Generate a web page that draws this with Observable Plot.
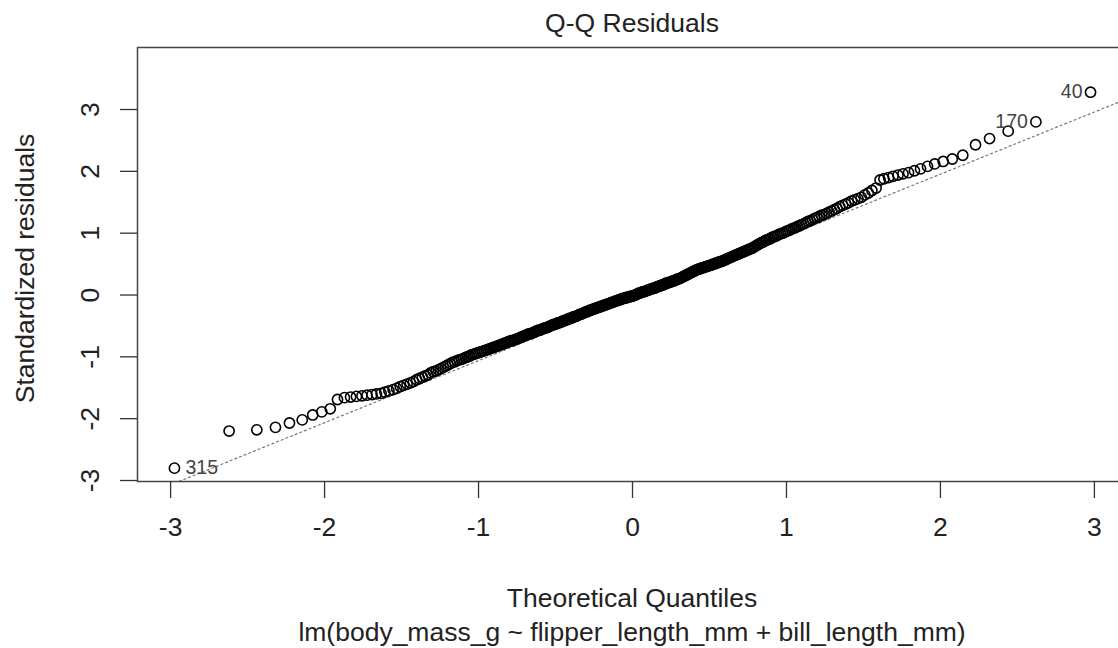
<!DOCTYPE html>
<html><head><meta charset="utf-8">
<script src="https://cdn.jsdelivr.net/npm/d3@7"></script>
<script src="https://cdn.jsdelivr.net/npm/@observablehq/plot@0.6"></script>
<style>
body{margin:0;background:#fff;}
#wrap{position:relative;width:1118px;height:648px;overflow:hidden;font-family:"Liberation Sans",Arial,sans-serif;color:#222;background:#fff;}
.title{width:1264px;height:46px;line-height:46px;text-align:center;font-size:26.5px;}
.bottom{width:1264px;padding-top:23px;text-align:center;font-size:26.5px;line-height:34px;}
#chart svg{display:block;overflow:hidden;}
</style></head>
<body>
<div id="wrap">
  <div class="title">Q-Q Residuals</div>
  <div id="chart"></div>
  <div class="bottom"><div>Theoretical Quantiles</div><div>lm(body_mass_g ~ flipper_length_mm + bill_length_mm)</div></div>
</div>
<script>
// Theoretical quantiles (x) of the 342 sorted standardized residuals
const theoretical = [
-2.975,-2.620,-2.440,-2.319,-2.228,-2.145,-2.077,-2.018,-1.963,-1.916,
-1.871,-1.831,-1.793,-1.757,-1.724,-1.692,-1.663,-1.633,-1.608,-1.582,
-1.555,-1.532,-1.509,-1.486,-1.464,-1.443,-1.423,-1.402,-1.384,-1.365,
-1.346,-1.328,-1.311,-1.294,-1.277,-1.261,-1.245,-1.229,-1.213,-1.198,
-1.183,-1.169,-1.154,-1.140,-1.126,-1.112,-1.099,-1.085,-1.072,-1.060,
-1.047,-1.034,-1.022,-1.010,-0.997,-0.985,-0.974,-0.962,-0.950,-0.939,
-0.927,-0.916,-0.905,-0.894,-0.883,-0.872,-0.862,-0.851,-0.841,-0.830,
-0.820,-0.810,-0.800,-0.790,-0.780,-0.770,-0.760,-0.750,-0.740,-0.731,
-0.721,-0.712,-0.702,-0.693,-0.684,-0.675,-0.665,-0.656,-0.647,-0.638,
-0.629,-0.620,-0.611,-0.603,-0.594,-0.585,-0.576,-0.568,-0.559,-0.551,
-0.542,-0.534,-0.525,-0.517,-0.509,-0.500,-0.492,-0.484,-0.476,-0.467,
-0.459,-0.451,-0.443,-0.435,-0.427,-0.419,-0.411,-0.403,-0.395,-0.387,
-0.379,-0.371,-0.363,-0.356,-0.348,-0.340,-0.332,-0.325,-0.317,-0.309,
-0.301,-0.294,-0.286,-0.278,-0.271,-0.263,-0.256,-0.248,-0.241,-0.233,
-0.225,-0.218,-0.210,-0.203,-0.196,-0.188,-0.181,-0.173,-0.166,-0.158,
-0.151,-0.143,-0.136,-0.129,-0.121,-0.114,-0.106,-0.099,-0.092,-0.084,
-0.077,-0.070,-0.062,-0.055,-0.048,-0.040,-0.033,-0.026,-0.018,-0.011,
-0.004,
0.004,0.011,0.018,0.026,0.033,0.040,0.048,0.055,0.062,0.070,
0.077,0.084,0.092,0.099,0.106,0.114,0.121,0.129,0.136,0.143,
0.151,0.158,0.166,0.173,0.181,0.188,0.196,0.203,0.210,0.218,
0.225,0.233,0.241,0.248,0.256,0.263,0.271,0.278,0.286,0.294,
0.301,0.309,0.317,0.325,0.332,0.340,0.348,0.356,0.363,0.371,
0.379,0.387,0.395,0.403,0.411,0.419,0.427,0.435,0.443,0.451,
0.459,0.467,0.476,0.484,0.492,0.500,0.509,0.517,0.525,0.534,
0.542,0.551,0.559,0.568,0.576,0.585,0.594,0.603,0.611,0.620,
0.629,0.638,0.647,0.656,0.665,0.675,0.684,0.693,0.702,0.712,
0.721,0.731,0.740,0.750,0.760,0.770,0.780,0.790,0.800,0.810,
0.820,0.830,0.841,0.851,0.862,0.872,0.883,0.894,0.905,0.916,
0.927,0.939,0.950,0.962,0.974,0.985,0.997,1.010,1.022,1.034,
1.047,1.060,1.072,1.085,1.099,1.112,1.126,1.140,1.154,1.169,
1.183,1.198,1.213,1.229,1.245,1.261,1.277,1.294,1.311,1.328,
1.346,1.365,1.384,1.402,1.423,1.443,1.464,1.486,1.509,1.532,
1.555,1.582,1.608,1.633,1.663,1.692,1.724,1.757,1.793,1.831,
1.871,1.916,1.963,2.018,2.077,2.145,2.228,2.319,2.440,2.620,
2.975
];

// Standardized residuals (y), sorted
const residuals = [
-2.80,-2.20,-2.18,-2.14,-2.07,-2.02,-1.94,-1.89,-1.84,-1.69,
-1.66,-1.65,-1.64,-1.63,-1.62,-1.61,-1.60,-1.59,-1.57,-1.55,
-1.53,-1.51,-1.48,-1.46,-1.44,-1.42,-1.40,-1.37,-1.35,-1.33,
-1.31,-1.29,-1.26,-1.24,-1.23,-1.21,-1.19,-1.17,-1.15,-1.13,
-1.11,-1.09,-1.08,-1.06,-1.05,-1.04,-1.03,-1.01,-1.00,-0.99,
-0.97,-0.96,-0.95,-0.94,-0.93,-0.92,-0.91,-0.90,-0.89,-0.88,
-0.87,-0.86,-0.85,-0.84,-0.83,-0.82,-0.81,-0.80,-0.79,-0.78,
-0.77,-0.76,-0.75,-0.74,-0.74,-0.73,-0.72,-0.71,-0.70,-0.69,
-0.68,-0.67,-0.66,-0.65,-0.64,-0.63,-0.63,-0.62,-0.61,-0.60,
-0.59,-0.58,-0.57,-0.57,-0.56,-0.55,-0.54,-0.53,-0.53,-0.52,
-0.51,-0.50,-0.49,-0.48,-0.48,-0.47,-0.46,-0.45,-0.45,-0.44,
-0.43,-0.42,-0.41,-0.41,-0.40,-0.39,-0.38,-0.38,-0.37,-0.36,
-0.35,-0.35,-0.34,-0.33,-0.32,-0.31,-0.31,-0.30,-0.29,-0.28,
-0.27,-0.27,-0.26,-0.25,-0.24,-0.24,-0.23,-0.22,-0.22,-0.21,
-0.20,-0.20,-0.19,-0.18,-0.18,-0.17,-0.16,-0.16,-0.15,-0.14,
-0.14,-0.13,-0.12,-0.12,-0.11,-0.10,-0.10,-0.09,-0.08,-0.08,
-0.07,-0.06,-0.06,-0.05,-0.05,-0.04,-0.04,-0.03,-0.03,-0.02,
-0.02,
-0.01,-0.01,0.00,0.01,0.02,0.03,0.03,0.04,0.05,0.05,
0.06,0.06,0.07,0.08,0.08,0.09,0.10,0.10,0.11,0.11,
0.12,0.13,0.14,0.14,0.15,0.16,0.16,0.17,0.18,0.19,
0.19,0.20,0.21,0.21,0.22,0.23,0.23,0.24,0.25,0.26,
0.26,0.27,0.28,0.29,0.30,0.31,0.32,0.33,0.34,0.35,
0.36,0.37,0.38,0.39,0.40,0.41,0.42,0.42,0.43,0.44,
0.44,0.45,0.46,0.46,0.47,0.48,0.48,0.49,0.50,0.51,
0.51,0.52,0.53,0.54,0.54,0.55,0.56,0.57,0.58,0.59,
0.60,0.61,0.62,0.63,0.64,0.65,0.66,0.67,0.68,0.69,
0.70,0.71,0.72,0.73,0.74,0.75,0.76,0.78,0.79,0.81,
0.82,0.84,0.85,0.86,0.88,0.89,0.90,0.91,0.93,0.94,
0.95,0.96,0.98,0.99,1.00,1.01,1.03,1.04,1.05,1.07,
1.08,1.09,1.11,1.12,1.14,1.15,1.17,1.19,1.20,1.22,
1.24,1.25,1.27,1.29,1.30,1.32,1.34,1.36,1.38,1.40,
1.43,1.45,1.47,1.49,1.52,1.54,1.56,1.58,1.62,1.65,
1.69,1.73,1.86,1.88,1.90,1.92,1.94,1.96,1.98,2.01,
2.04,2.08,2.12,2.16,2.20,2.26,2.43,2.53,2.65,2.80,
3.28
];

// Labelled observations
const labelText = ["315", "170", "40"];
const labelIndex = [0, 340, 341];
const labelSide = ["right", "left", "left"];

// Reference line (qqline) through the quartiles
const qqIntercept = -0.055;
const qqSlope = 1.005;

// Axes
const xTicks = [-3, -2, -1, 0, 1, 2, 3];
const yTicks = [-3, -2, -1, 0, 1, 2, 3];
const xDomain = [-3.215, 3.215];
const yDomain = [-3.016, 4.003];

const points = theoretical.map((x, i) => ({x, y: residuals[i]}));
const labels = labelIndex.map((idx, i) => ({x: theoretical[idx], y: residuals[idx], text: labelText[i], side: labelSide[i]}));
const qqline = xDomain.map(x => ({x, y: qqIntercept + qqSlope * x}));

const fontSize = 26.5;

const chart = Plot.plot({
  width: 1118,
  height: 512,
  marginLeft: 137,
  marginRight: -9,
  marginTop: 1,
  marginBottom: 77,
  style: {fontFamily: '"Liberation Sans", Arial, sans-serif', fontSize: fontSize + "px", color: "#222", background: "white", overflow: "hidden"},
  x: {domain: xDomain},
  y: {domain: yDomain},
  marks: [
    Plot.line(qqline, {x: "x", y: "y", stroke: "#777", strokeWidth: 1.2, strokeDasharray: "2,3", clip: true}),
    Plot.dot(points, {x: "x", y: "y", r: 5.1, stroke: "#000", strokeWidth: 1.6, fill: "none"}),
    Plot.text(labels.filter(d => d.side === "right"), {x: "x", y: "y", text: "text", textAnchor: "start", dx: 11, fontSize: 19.5, fill: "#444"}),
    Plot.text(labels.filter(d => d.side === "left"), {x: "x", y: "y", text: "text", textAnchor: "end", dx: -8, fontSize: 19.5, fill: "#444"}),
    Plot.frame({stroke: "#444", strokeWidth: 1.5}),
    Plot.axisX({ticks: xTicks, tickSize: 17, tickFormat: () => "", label: null, stroke: "#333", strokeWidth: 1.3}),
    Plot.axisY({ticks: yTicks, tickSize: 17, tickFormat: () => "", label: null, stroke: "#333", strokeWidth: 1.3}),
    Plot.text(xTicks, {x: d => d, text: d => String(d), frameAnchor: "bottom", dy: 54, fontSize: fontSize, fill: "#222"}),
    Plot.text(yTicks, {y: d => d, text: d => String(d), frameAnchor: "left", textAnchor: "middle", dx: -47, rotate: -90, fontSize: fontSize, fill: "#222"}),
    Plot.text(["Standardized residuals"], {text: d => d, frameAnchor: "left", textAnchor: "middle", dx: -112, dy: 4, rotate: -90, fontSize: fontSize, fill: "#222"})
  ]
});
document.getElementById("chart").appendChild(chart);
</script>
</body></html>
